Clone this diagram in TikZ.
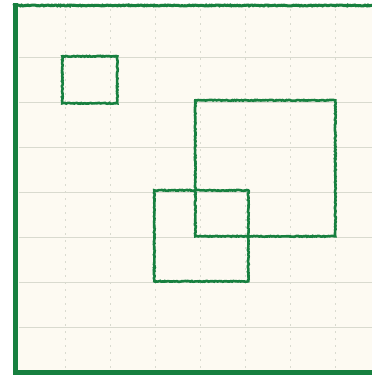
\documentclass[tikz,border=0pt]{standalone}
\usetikzlibrary{decorations.pathmorphing}
\definecolor{pencilgreen}{HTML}{17803F}
\definecolor{paper}{HTML}{FDFAF2}
\definecolor{gridgray}{HTML}{D9DACF}
\tikzset{
  pencil/.style={draw=pencilgreen, line width=2.6pt, decorate,
    decoration={random steps, segment length=1.2pt, amplitude=0.45pt}},
  sketchbox/.style={pencil, anchor=north west, inner sep=0pt},
  gridline/.style={draw=gridgray, line width=1pt},
  gridtick/.style={draw=gridgray, line width=0.8pt, dash pattern=on 2pt off 5pt}
}
\begin{document}
\begin{tikzpicture}[x=1pt, y=-1pt]
      \useasboundingbox (0,0) rectangle (372,375);

      % Paper sheet
      \fill[paper] (13,3) rectangle (372,375);

      % Faint grid
      \foreach \i in {0,...,6} {
        \draw[gridtick] (65+45*\i,9) -- (65+45*\i,369);
        \draw[gridline] (19,57+45*\i) -- (372,57+45*\i);
      }

      % Frame edges
      \draw[pencil, line width=3pt] (13,5.5) -- (372,5.5);
      \draw[draw=pencilgreen, line width=5pt] (15.5,3) -- (15.5,375);
      \draw[draw=pencilgreen, line width=5pt] (13,372.5) -- (372,372.5);

      % Sketched squares
      \node[sketchbox, minimum width=55pt, minimum height=47pt] (small) at (61,55) {};
      \node[sketchbox, minimum width=140pt, minimum height=136pt] (large) at (194,99) {};
      \node[sketchbox, minimum width=94pt, minimum height=91pt] (medium) at (153,189) {};

\end{tikzpicture}
\end{document}
